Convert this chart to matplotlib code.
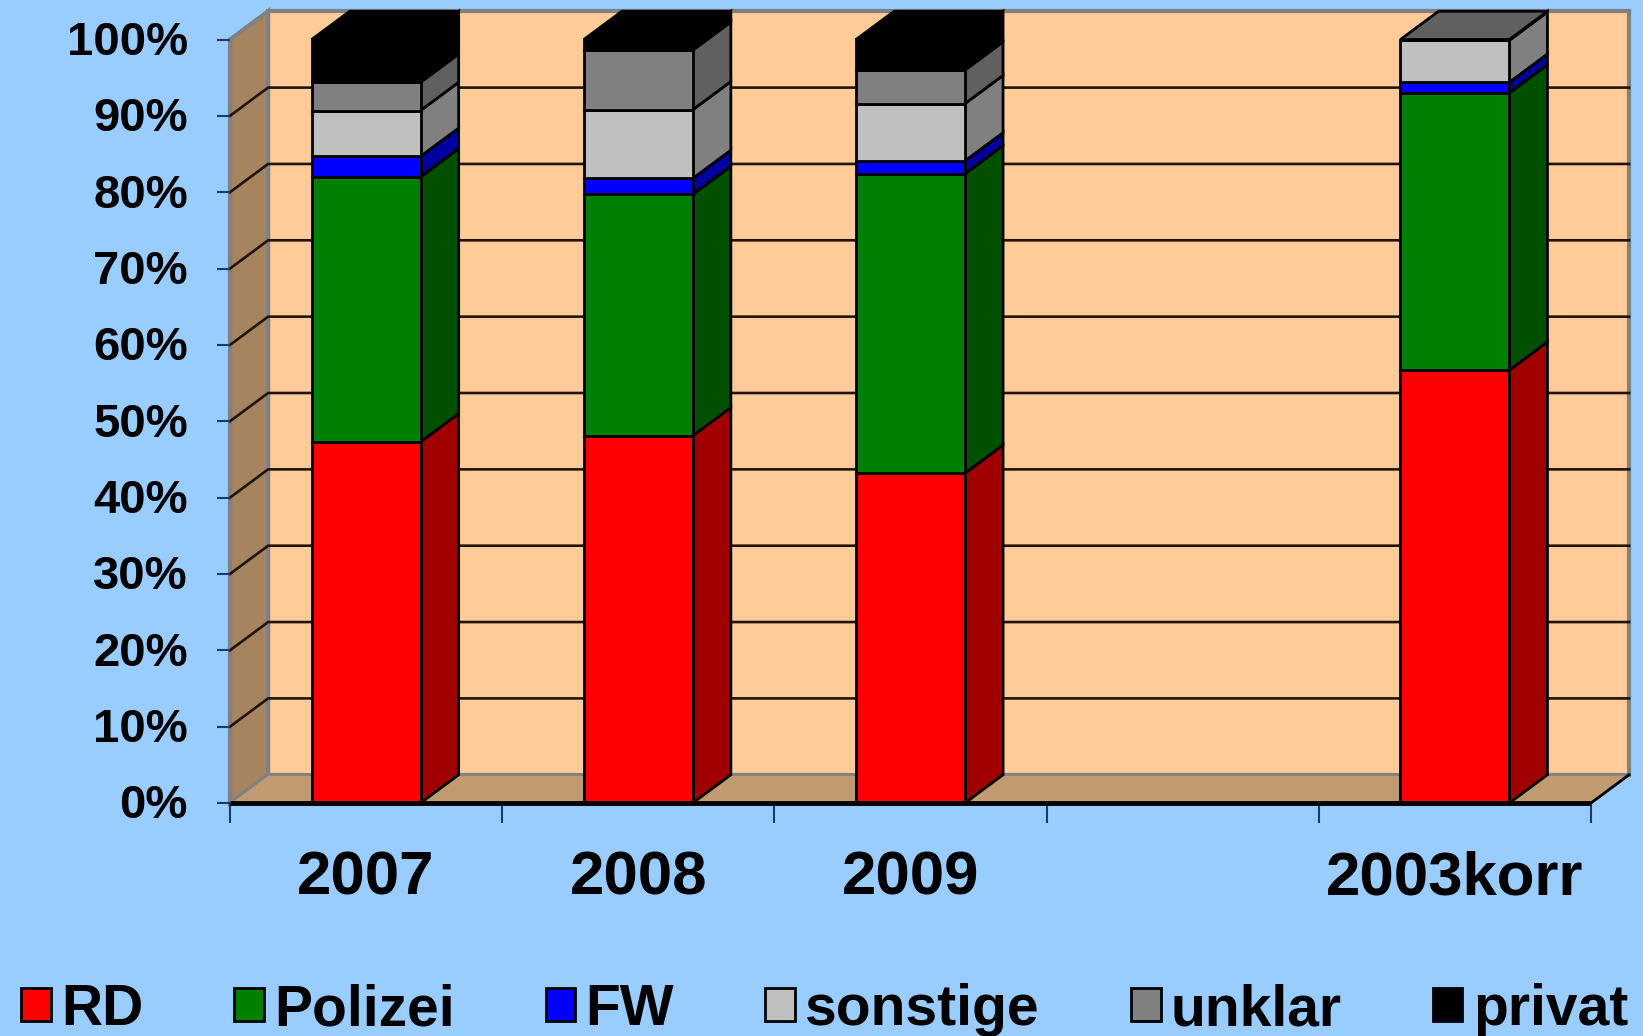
import matplotlib
matplotlib.use("Agg")
import matplotlib.pyplot as plt
from matplotlib.transforms import ScaledTranslation
import numpy as np

plt.rcParams['font.family'] = ['Liberation Sans', 'DejaVu Sans']
plt.rcParams['font.weight'] = 'bold'

# Kategorien (vierter Platz ist im Original leer)
years = ["2007", "2008", "2009", "", "2003korr"]

# Anteile in Prozent
rd = [47.3, 48.1, 43.2, 0, 56.7]
polizei = [34.7, 31.6, 39.2, 0, 36.3]
fw = [2.7, 2.1, 1.7, 0, 1.4]
sonstige = [6.0, 9.0, 7.5, 0, 5.5]
unklar = [3.7, 7.8, 4.4, 0, 0.1]
privat = [5.6, 1.4, 4.0, 0, 0]

names = ["RD", "Polizei", "FW", "sonstige", "unklar", "privat"]
series = [rd, polizei, fw, sonstige, unklar, privat]
front_colors = ["#FF0000", "#008000", "#0000FF", "#C0C0C0", "#808080", "#000000"]
side_colors = ["#A00000", "#005000", "#0000A0", "#808080", "#606060", "#000000"]

BAR_W = 0.4
DX = 0.14   # Tiefe in x (Kategorien)
DY = 3.7    # Tiefe in y (Prozent)
EDGE = 2.0

fig = plt.figure(figsize=(16.43, 10.36), dpi=100, facecolor="#99CCFF")
ax = fig.add_axes([230 / 1643, (1036 - 803) / 1036, 1361 / 1643, 763.5 / 1036])
ax.patch.set_visible(False)
for s in ax.spines.values():
    s.set_visible(False)
ax.set_xlim(0, 5)
ax.set_ylim(0, 100)

# Wände und Boden
ax.fill([DX, 5 + DX, 5 + DX, DX], [DY, DY, 100 + DY, 100 + DY],
        color="#FFCC99", ec="#808080", lw=3, zorder=1, clip_on=False)
ax.fill([0, DX, DX, 0], [0, DY, 100 + DY, 100], color="#A5845F",
        ec="#808080", lw=3, zorder=1.2, clip_on=False)
ax.fill([0, DX, 5 + DX, 5], [0, DY, DY, 0], color="#C09A70",
        ec="#808080", lw=1.5, zorder=1.2, clip_on=False)
ax.plot([5, 5 + DX], [0, DY], color="black", lw=2, zorder=1.3, clip_on=False)

# Gitterlinien
for v in range(10, 100, 10):
    ax.plot([0, DX, 5 + DX], [v, v + DY, v + DY], color="#20140A", lw=1.9,
            zorder=1.5, clip_on=False)

# Säulen
x = np.arange(len(years)) + 0.5
bottom = np.zeros(len(years))
for name, vals, fc, sc in zip(names, series, front_colors, side_colors):
    vals = np.array(vals, dtype=float)
    ax.bar(x, vals, BAR_W, bottom=bottom, color=fc, edgecolor="black",
           linewidth=EDGE, label=name, zorder=3, clip_on=False)
    for xi, b, v in zip(x, bottom, vals):
        if v <= 0:
            continue
        r = xi + BAR_W / 2
        ax.fill([r, r + DX, r + DX, r], [b, b + DY, b + v + DY, b + v],
                color=sc, ec="black", lw=EDGE, zorder=2.5, clip_on=False)
    bottom = bottom + vals

# Deckfläche der Säulen, Farbe vom obersten Segment
for i, xi in enumerate(x):
    if bottom[i] <= 0:
        continue
    top_idx = max(j for j, vals in enumerate(series) if vals[i] > 0)
    l, r = xi - BAR_W / 2, xi + BAR_W / 2
    ax.fill([l, l + DX, r + DX, r],
            [bottom[i], bottom[i] + DY, bottom[i] + DY, bottom[i]],
            color=side_colors[top_idx], ec="black", lw=EDGE, zorder=2.6, clip_on=False)

ax.plot([0, 5], [0, 0], color="black", lw=3.5, zorder=4, clip_on=False,
        solid_capstyle="butt")

# Achsen
ax.set_yticks(np.arange(0, 101, 10))
ax.set_yticklabels([f"{v}%" for v in range(0, 101, 10)], fontsize=34, fontweight="bold")
ax.tick_params(axis="y", length=9.4, width=1.5, color="#1F3A5F", pad=21)
shift = ScaledTranslation(0, 1.2 / 72, fig.dpi_scale_trans)
for lab in ax.get_yticklabels():
    lab.set_transform(lab.get_transform() + shift)
ax.set_xticks(np.arange(6))
ax.set_xticklabels([])
ax.tick_params(axis="x", which="major", length=14.4, width=1.5, color="#1F3A5F")
ax.set_xticks(x, labels=years, minor=True, fontsize=44.5, fontweight="bold")
ax.tick_params(axis="x", which="minor", length=0, pad=34)

# Legende
fig.legend(*ax.get_legend_handles_labels(), loc="center left",
           bbox_to_anchor=(21 / 1643, 1 - 1010 / 1036), ncol=6, frameon=False,
           fontsize=41, borderpad=0, borderaxespad=0, columnspacing=1.6,
           handlelength=0.52, handleheight=0.52, handletextpad=0.18)

fig.savefig("out.png", dpi=100, facecolor=fig.get_facecolor())
plt.close(fig)
